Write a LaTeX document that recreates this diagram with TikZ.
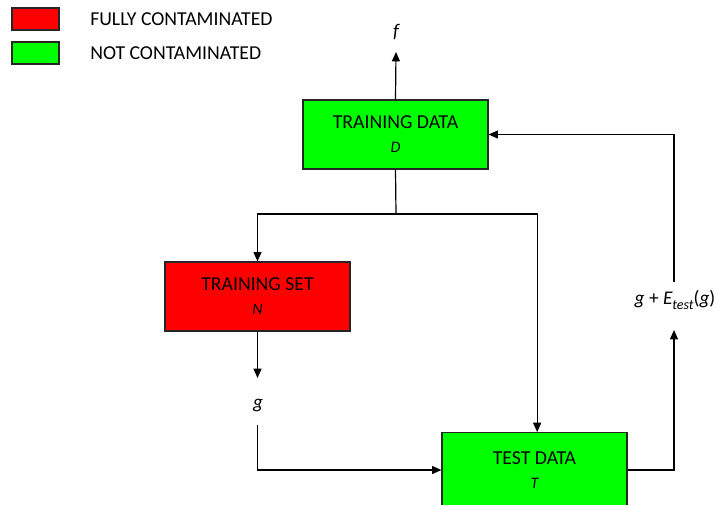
\documentclass[tikz,border=0pt]{standalone}
\usepackage{fontspec}
\setmainfont{Carlito}
\usetikzlibrary{arrows.meta}
\definecolor{hot}{RGB}{255,0,0}
\definecolor{clean}{RGB}{0,255,0}
\tikzset{
  box/.style={draw=black!85, line width=0.9pt, minimum width=138.75pt, minimum height=51.75pt,
              align=center, inner sep=0pt, font=\fontsize{14.8}{17}\selectfont},
  keybox/.style={draw=black!85, line width=0.9pt, minimum width=35.25pt, minimum height=16.5pt, inner sep=0pt},
  keytext/.style={anchor=west, inner sep=0pt, font=\fontsize{14.8}{17}\selectfont},
  lbl/.style={inner sep=0pt, font=\fontsize{14.5}{17}\selectfont},
  wire/.style={line width=0.9pt, black},
  arr/.style={wire, -{Triangle[length=7pt,width=6pt]}}
}
\newcommand{\sublabel}[1]{\\[1pt]{\fontsize{12}{14}\selectfont\itshape #1}}
\begin{document}
\begin{tikzpicture}[x=0.75pt, y=-0.75pt]
  \useasboundingbox (0,0) rectangle (714,504);
  \clip (0,0) rectangle (714,504);

  % legend
  \node[keybox, fill=hot] (kred) at (35.5,19) {};
  \node[keybox, fill=clean] (kgreen) at (35.5,53) {};
  \node[keytext] (tred) at (90,19) {FULLY CONTAMINATED};
  \node[keytext] (tgreen) at (90,53) {NOT CONTAMINATED};

  % data blocks
  \node[box, fill=clean] (td) at (395.5,134.5) {TRAINING DATA\sublabel{D}};
  \node[box, fill=hot] (ts) at (257.5,296.5) {TRAINING SET\sublabel{N}};
  \node[box, fill=clean, minimum height=56pt] (te) at (534.5,470) {TEST DATA\sublabel{T}};

  % labels
  \node[lbl] (f) at (396,32) {\itshape f};
  \node[lbl] (g) at (258,405) {\itshape g};
  \node[lbl] (err) at (675,300) {\itshape g\upshape{} + \itshape E\raisebox{-0.45ex}{\fontsize{10.5}{12}\selectfont test}\upshape(\itshape g\upshape)};

  % connector points
  \coordinate (ftip) at (396,52);
  \coordinate (split) at (396,214);
  \coordinate (gtip) at (257.5,378);
  \coordinate (gout) at (257.5,425);
  \coordinate (etip) at (674,330);
  \coordinate (eout) at (674,282);

  % connectors
  \draw[arr] (td.north) -- (ftip);
  \draw[wire] (td.south) -- (split);
  \draw[arr] (split) -| (ts.north);
  \draw[arr] (split) -| ([xshift=2]te.north);
  \draw[arr] (ts.south) -- (gtip);
  \draw[arr] (gout) |- (te.west);
  \draw[arr] (te.east) -| (etip);
  \draw[arr] (eout) |- (td.east);
\end{tikzpicture}
\end{document}
